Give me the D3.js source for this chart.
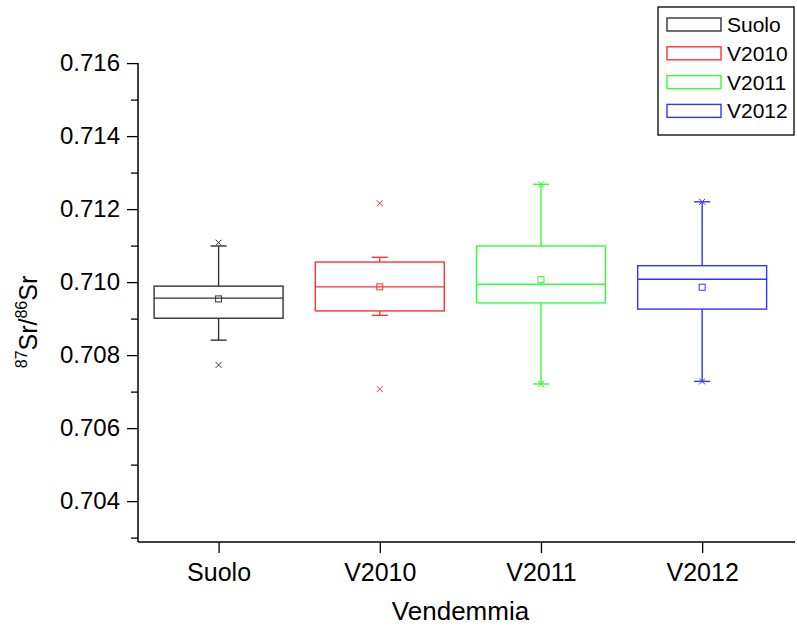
<!DOCTYPE html>
<html>
<head>
<meta charset="utf-8">
<script src="https://cdn.jsdelivr.net/npm/d3@7"></script>
<style>
  body { margin: 0; background: #fff; }
  svg { display: block; font-family: "Liberation Sans", Arial, sans-serif; }
</style>
</head>
<body>
<svg id="chart" width="797" height="628"></svg>
<script>
// box plot data (87Sr/86Sr)
const categories  = ['Suolo', 'V2010', 'V2011', 'V2012'];
const colors      = ['#333333', '#ff3333', '#33ff33', '#3333ff'];
const whiskerLow  = [0.70841, 0.70909, 0.70721, 0.70728];
const q1          = [0.70901, 0.70921, 0.70943, 0.70926];
const median      = [0.70956, 0.70987, 0.70994, 0.71008];
const q3          = [0.70989, 0.71055, 0.71099, 0.71045];
const whiskerHigh = [0.71099, 0.71068, 0.71268, 0.71220];
const mean        = [0.70954, 0.70987, 0.71007, 0.70986];
const minVal      = [0.70773, 0.70707, 0.70721, 0.70728];
const maxVal      = [0.71108, 0.71216, 0.71268, 0.71220];
const yTicks      = [0.704, 0.706, 0.708, 0.710, 0.712, 0.714, 0.716];

const svg = d3.select('#chart');

const x = d3.scaleLinear().domain([0.5, 4.576]).range([138, 795]);
const y = d3.scaleLinear().domain([0.70288, 0.716]).range([542, 63.1]);

const boxes = categories.map((c, i) => ({
  name: c, pos: i + 1, color: colors[i],
  lo: whiskerLow[i], q1: q1[i], med: median[i], q3: q3[i], hi: whiskerHigh[i],
  mean: mean[i], min: minVal[i], max: maxVal[i]
}));

const boxW = 0.8;   // in category units
const capW = 0.1;

// Axes
const yAxis = svg.append('g').attr('transform', `translate(${x(0.5)},0)`)
  .call(d3.axisLeft(y).tickValues(yTicks).tickFormat(d3.format('.3f')).tickSize(11).tickPadding(7));
// minor ticks
svg.append('g').attr('transform', `translate(${x(0.5)},0)`)
  .call(d3.axisLeft(y).tickValues(d3.range(0.703, 0.716, 0.002)).tickFormat('').tickSize(7))
  .call(g => g.select('.domain').remove());

const xAxis = svg.append('g').attr('transform', `translate(0,${y.range()[0]})`)
  .call(d3.axisBottom(x).tickValues(boxes.map(b => b.pos)).tickFormat((d, i) => categories[i]).tickSize(11).tickPadding(10));

svg.selectAll('.domain').attr('stroke', '#000').attr('stroke-width', 1.5);
svg.selectAll('.tick line').attr('stroke', '#000').attr('stroke-width', 1.3);
yAxis.selectAll('text').attr('font-size', 24).attr('fill', '#000');
xAxis.selectAll('text').attr('font-size', 25).attr('fill', '#000');
// no outer tick stubs on the axis lines
yAxis.select('.domain').attr('d', `M0,${y(0.716)}V${y.range()[0]}`);
xAxis.select('.domain').attr('d', `M${x(0.5)},0H${x.range()[1]}`);

// Boxes
const g = svg.append('g').attr('fill', 'none').attr('stroke-width', 1.4);
const bg = g.selectAll('g.box').data(boxes).join('g').attr('class', 'box').attr('stroke', d => d.color);

// whiskers
bg.append('line').attr('x1', d => x(d.pos)).attr('x2', d => x(d.pos)).attr('y1', d => y(d.hi)).attr('y2', d => y(d.q3));
bg.append('line').attr('x1', d => x(d.pos)).attr('x2', d => x(d.pos)).attr('y1', d => y(d.q1)).attr('y2', d => y(d.lo));
// caps
bg.append('line').attr('x1', d => x(d.pos - capW / 2)).attr('x2', d => x(d.pos + capW / 2)).attr('y1', d => y(d.hi)).attr('y2', d => y(d.hi));
bg.append('line').attr('x1', d => x(d.pos - capW / 2)).attr('x2', d => x(d.pos + capW / 2)).attr('y1', d => y(d.lo)).attr('y2', d => y(d.lo));
// box
bg.append('rect')
  .attr('x', d => x(d.pos - boxW / 2)).attr('width', d => x(d.pos + boxW / 2) - x(d.pos - boxW / 2))
  .attr('y', d => y(d.q3)).attr('height', d => y(d.q1) - y(d.q3));
// median
bg.append('line').attr('x1', d => x(d.pos - boxW / 2)).attr('x2', d => x(d.pos + boxW / 2)).attr('y1', d => y(d.med)).attr('y2', d => y(d.med));
// mean square
bg.append('rect').attr('stroke-width', 1)
  .attr('x', d => x(d.pos) - 3).attr('y', d => y(d.mean) - 3).attr('width', 6).attr('height', 6);
// min / max crosses
const cross = (sel, key) => sel.append('path').attr('stroke-width', 1)
  .attr('d', d => {
    const cx = x(d.pos), cy = y(d[key]), r = 3;
    return `M${cx - r},${cy - r}L${cx + r},${cy + r}M${cx - r},${cy + r}L${cx + r},${cy - r}`;
  });
cross(bg, 'min');
cross(bg, 'max');

// Axis titles
const yt = svg.append('text').attr('transform', 'translate(37,322) rotate(-90)')
  .attr('text-anchor', 'middle').attr('font-size', 25).attr('fill', '#000');
yt.append('tspan').attr('font-size', 16).attr('dy', -10).text('87');
yt.append('tspan').attr('dy', 10).text('Sr/');
yt.append('tspan').attr('font-size', 16).attr('dy', -10).text('86');
yt.append('tspan').attr('dy', 10).text('Sr');

svg.append('text').attr('x', (x(0.5) + x.range()[1]) / 2 - 6).attr('y', 620)
  .attr('text-anchor', 'middle').attr('font-size', 26).attr('fill', '#000').text('Vendemmia');

// Legend
const leg = svg.append('g').attr('transform', 'translate(658,7)');
leg.append('rect').attr('width', 136).attr('height', 128).attr('fill', '#fff').attr('stroke', '#000').attr('stroke-width', 1.3);
const li = leg.selectAll('g.item').data(boxes).join('g').attr('class', 'item')
  .attr('transform', (d, i) => `translate(9,${11 + i * 28.8})`);
li.append('rect').attr('width', 54).attr('height', 13).attr('fill', 'none').attr('stroke', d => d.color).attr('stroke-width', 1.4);
li.append('text').attr('x', 60).attr('y', 14).attr('font-size', 21).attr('fill', '#000').text(d => d.name);
</script>
</body>
</html>
